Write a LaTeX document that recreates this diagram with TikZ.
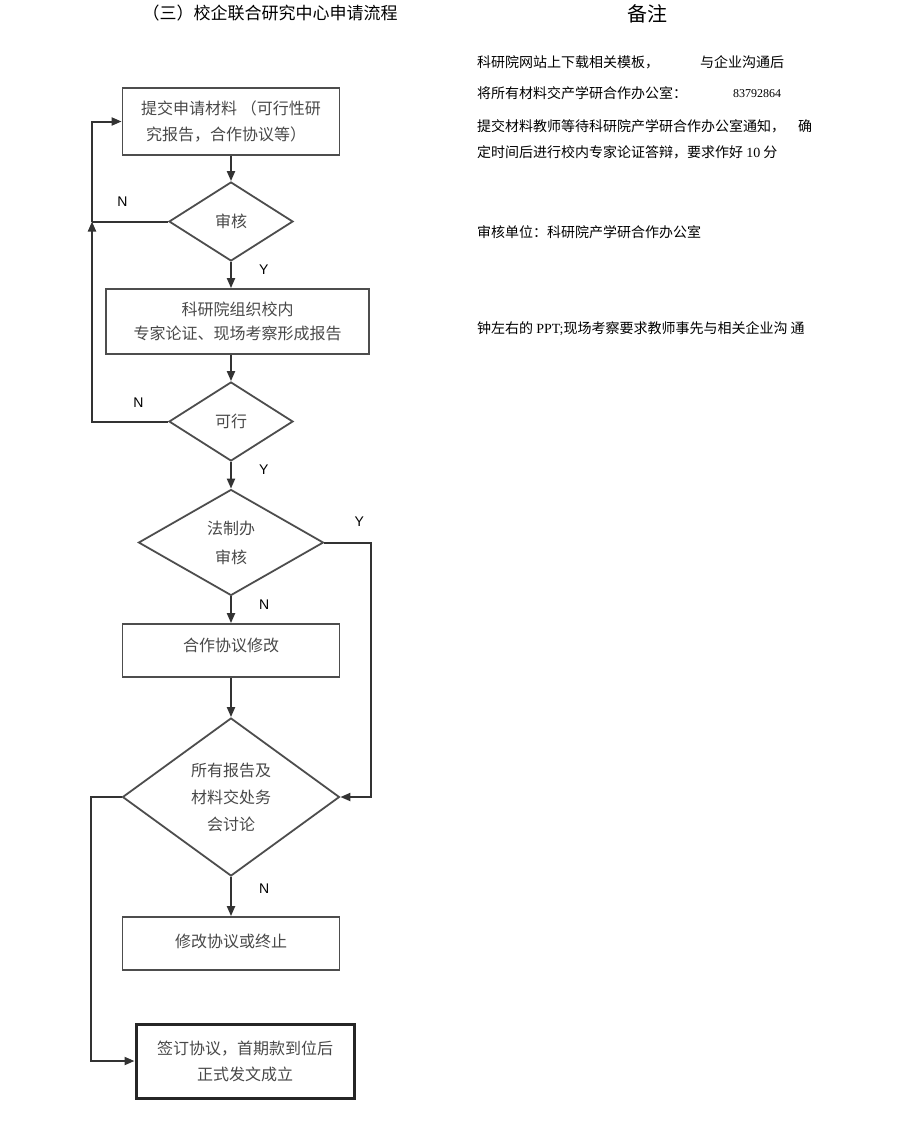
\documentclass[tikz,border=0pt]{standalone}
\usepackage{fontspec}
\setmainfont{Noto Sans CJK SC}
\setsansfont{Liberation Sans}
\newfontfamily\tms{Liberation Serif}
\usepackage{tikz}
\usetikzlibrary{shapes.geometric, arrows.meta, positioning}
\definecolor{xian}{HTML}{333333}
\definecolor{kuangse}{HTML}{4D4D4D}
\definecolor{wenzi}{HTML}{484848}
\tikzstyle{stepbox} = [rectangle, minimum width=217pt, minimum height=53pt, text centered, align=center, draw=kuangse, line width=1.8pt, text=wenzi, font=\fontsize{16}{26}\selectfont, inner sep=0pt]
\tikzstyle{checkbox} = [diamond, aspect=1.5, minimum width=124pt, minimum height=79pt, text centered, align=center, draw=kuangse, line width=1.8pt, text=wenzi, font=\fontsize{16}{26}\selectfont, inner sep=0pt]
\tikzstyle{arrow} = [line width=2pt, draw=xian, ->, >={Triangle[length=10pt,width=8pt]}]
\tikzstyle{yn} = [inner sep=0pt, font=\sffamily\fontsize{14}{14}\selectfont]
\tikzstyle{note} = [anchor=west, inner sep=0pt, font=\fontsize{14}{14}\selectfont]

\begin{document}
\begin{tikzpicture}[x=1pt, y=-1pt, node distance=100pt]
\useasboundingbox (0,0) rectangle (920,1130);
% titles
\node (biaoti) at (270,13) [font=\fontsize{17}{17}\selectfont] {（三）校企联合研究中心申请流程};
\node (beizhu) at (647,14) [font=\fontsize{20}{20}\selectfont] {备注};

% flow
\node (tj) at (231,121.5) [stepbox, minimum height=67pt, align=left] {提交申请材料 （可行性研\\\hspace{5pt}究报告，合作协议等）};
\node (sh) [checkbox, below of=tj] {审核};
\node (zh) [stepbox, below of=sh, xshift=6.5pt, minimum width=263pt, minimum height=65pt, font=\fontsize{16}{24}\selectfont] {科研院组织校内\\专家论证、现场考察形成报告};
\node (kx) [checkbox, below of=zh, xshift=-6.5pt] {可行};
\node (fz) [checkbox, below of=kx, yshift=-21pt, minimum width=185pt, minimum height=106pt, font=\fontsize{16}{29}\selectfont] {法制办\\审核};
\node (xg) [stepbox, below of=fz, yshift=-8pt] {\raisebox{12pt}{合作协议修改}};
\node (bg) [checkbox, below of=xg, yshift=-46.5pt, minimum width=217pt, minimum height=158pt, font=\fontsize{16}{27}\selectfont] {所有报告及\\材料交处务\\会讨论};
\node (zz) [stepbox, below of=bg, yshift=-46.5pt] {\raisebox{6pt}{修改协议或终止}};
\node (qd) [stepbox, below of=zz, yshift=-17.5pt, xshift=14pt, minimum width=218pt, minimum height=74pt, line width=3pt, draw=black!85] {签订协议，首期款到位后\\正式发文成立};
\coordinate (jn) at (92,221.5);

\draw [arrow] (tj) -- (sh);
\draw [arrow] (sh) -- node[yn, pos=0.3, right=27pt] {Y} (sh.south |- zh.north);
\draw [arrow] (zh.south -| kx) -- (kx);
\draw [arrow] (kx) -- node[yn, pos=0.3, right=27pt] {Y} (fz);
\draw [arrow] (fz) -- node[yn, pos=0.3, right=27pt] {N} (xg);
\draw [arrow] (xg) -- (bg);
\draw [arrow] (bg) -- node[yn, pos=0.3, right=27pt] {N} (zz);
\draw [arrow] (fz.east) -- node[yn, pos=0.74, above=15pt] {Y} ++(47,0) |- (bg.east);
\draw [arrow] (bg.west) -- ++(-31,0) |- (qd.west);
\draw [arrow, -] (sh.west) -- node[yn, pos=0.6, above=14pt] {N} (jn);
\draw [arrow] (kx.west) -- node[yn, pos=0.39, above=13pt] {N} (kx.west -| jn) -- (jn);
\draw [arrow] (jn) |- (tj.west);

% notes
\node (bz1) [note] at (477,62) {科研院网站上下载相关模板，};
\node (bz1b) [note] at (700,62) {与企业沟通后};
\node (bz2) [note] at (477,93) {将所有材料交产学研合作办公室：};
\node (dh) [note, font=\tms\fontsize{12}{12}\selectfont] at (733,94) {83792864};
\node (bz3) [note] at (477,126) {提交材料教师等待科研院产学研合作办公室通知，};
\node (bz3b) [note] at (798,126) {确};
\node (bz4) [note] at (477,152) {定时间后进行校内专家论证答辩，要求作好 {\tms 10} 分};
\node (bz5) [note] at (477,232) {审核单位：科研院产学研合作办公室};
\node (bz6) [note] at (477,329) {钟左右的 {\tms PPT;}现场考察要求教师事先与相关企业沟 通};
\end{tikzpicture}
\end{document}
